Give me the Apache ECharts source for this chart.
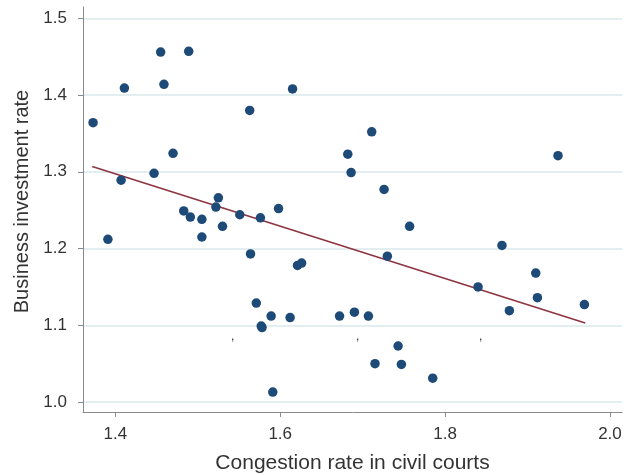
<!DOCTYPE html>
<html lang="en">
<head>
    <meta charset="UTF-8">
    <title>Investment vs congestion</title>
    <script src="https://cdn.jsdelivr.net/npm/echarts@6/dist/echarts.min.js"></script>
    <style>
        html, body { margin: 0; padding: 0; background: #fff; }
        #chart_box { width: 624px; height: 475px; }
    </style>
</head>
<body>
<div id="chart_box"></div>
<script>
    // congestion rate (x) and business investment rate (y)
    var congestion = [1.373, 1.391, 1.407, 1.411, 1.447, 1.455, 1.459, 1.470, 1.483, 1.489,
        1.491, 1.505, 1.505, 1.522, 1.525, 1.530, 1.551, 1.563, 1.564, 1.571,
        1.576, 1.577, 1.578, 1.589, 1.591, 1.598, 1.612, 1.615, 1.621, 1.626,
        1.672, 1.682, 1.686, 1.690, 1.707, 1.711, 1.715, 1.726, 1.730, 1.743,
        1.747, 1.757, 1.785, 1.840, 1.869, 1.878, 1.910, 1.912, 1.937, 1.969];
    var investment = [1.364, 1.212, 1.289, 1.409, 1.298, 1.456, 1.414, 1.324, 1.249, 1.457,
        1.241, 1.238, 1.215, 1.254, 1.266, 1.229, 1.244, 1.380, 1.193, 1.129,
        1.240, 1.099, 1.097, 1.112, 1.013, 1.252, 1.110, 1.408, 1.178, 1.181,
        1.112, 1.323, 1.299, 1.117, 1.112, 1.352, 1.050, 1.277, 1.190, 1.073,
        1.049, 1.229, 1.031, 1.150, 1.204, 1.119, 1.168, 1.136, 1.321, 1.127];
    // fitted line end points
    var fitX = [1.372, 1.970];
    var fitY = [1.307, 1.103];

    var xTicks = [1.4, 1.6, 1.8, 2.0];
    var yTicks = [1.0, 1.1, 1.2, 1.3, 1.4, 1.5];

    var points = [];
    for (var i = 0; i < congestion.length; i++) {
        points.push([congestion[i], investment[i]]);
    }
    var fitLine = [];
    for (var j = 0; j < fitX.length; j++) {
        fitLine.push([fitX[j], fitY[j]]);
    }

    var font = 'Liberation Sans, Arial, Helvetica, sans-serif';
    var chart = echarts.init(document.getElementById('chart_box'));

    var option = {
        animation: false,
        backgroundColor: '#fff',
        grid: {
            left: 83,
            right: 2,
            top: 7,
            bottom: 63,
            outerBoundsMode: 'none'
        },
        xAxis: {
            type: 'value',
            min: 1.3608,
            max: 2.0146,
            name: 'Congestion rate in civil courts',
            nameLocation: 'middle',
            nameGap: 41,
            nameTextStyle: { fontFamily: font, fontSize: 21, color: '#333' },
            axisLine: { show: true, onZero: false, lineStyle: { color: '#8a8a8a', width: 1 } },
            axisTick: {
                show: true, length: 5, lineStyle: { color: '#8a8a8a' },
                customValues: xTicks
            },
            axisLabel: {
                fontFamily: font, fontSize: 17, color: '#333', margin: 14,
                customValues: xTicks,
                formatter: function (v) { return v.toFixed(1); }
            },
            splitLine: { show: false }
        },
        yAxis: {
            type: 'value',
            min: 0.987,
            max: 1.5147,
            name: 'Business investment rate',
            nameLocation: 'middle',
            nameGap: 51,
            nameTextStyle: { fontFamily: font, fontSize: 20, color: '#333', padding: [0, 0, 0, 16] },
            axisLine: { show: true, onZero: false, lineStyle: { color: '#8a8a8a', width: 1 } },
            axisTick: {
                show: true, length: 5, lineStyle: { color: '#8a8a8a' },
                customValues: yTicks
            },
            axisLabel: {
                fontFamily: font, fontSize: 17, color: '#333', margin: 16,
                customValues: yTicks,
                formatter: function (v) { return v.toFixed(1); }
            },
            splitLine: {
                show: true,
                customValues: yTicks,
                lineStyle: { color: '#e2eef0', width: 2 }
            }
        },
        graphic: [
            { type: 'text', left: 231, top: 331, style: { text: ',', fontSize: 12, fill: '#333', fontFamily: font } },
            { type: 'text', left: 356, top: 331, style: { text: ',', fontSize: 12, fill: '#333', fontFamily: font } },
            { type: 'text', left: 479, top: 331, style: { text: ',', fontSize: 12, fill: '#333', fontFamily: font } }
        ],
        series: [
            {
                type: 'scatter',
                data: points,
                symbol: 'circle',
                symbolSize: 9.5,
                itemStyle: { color: '#1e4a78', opacity: 1 },
                z: 3
            },
            {
                type: 'line',
                data: fitLine,
                symbol: 'none',
                lineStyle: { color: '#8e3440', width: 1.6 },
                z: 2
            }
        ]
    };
    chart.setOption(option);
</script>
</body>
</html>
